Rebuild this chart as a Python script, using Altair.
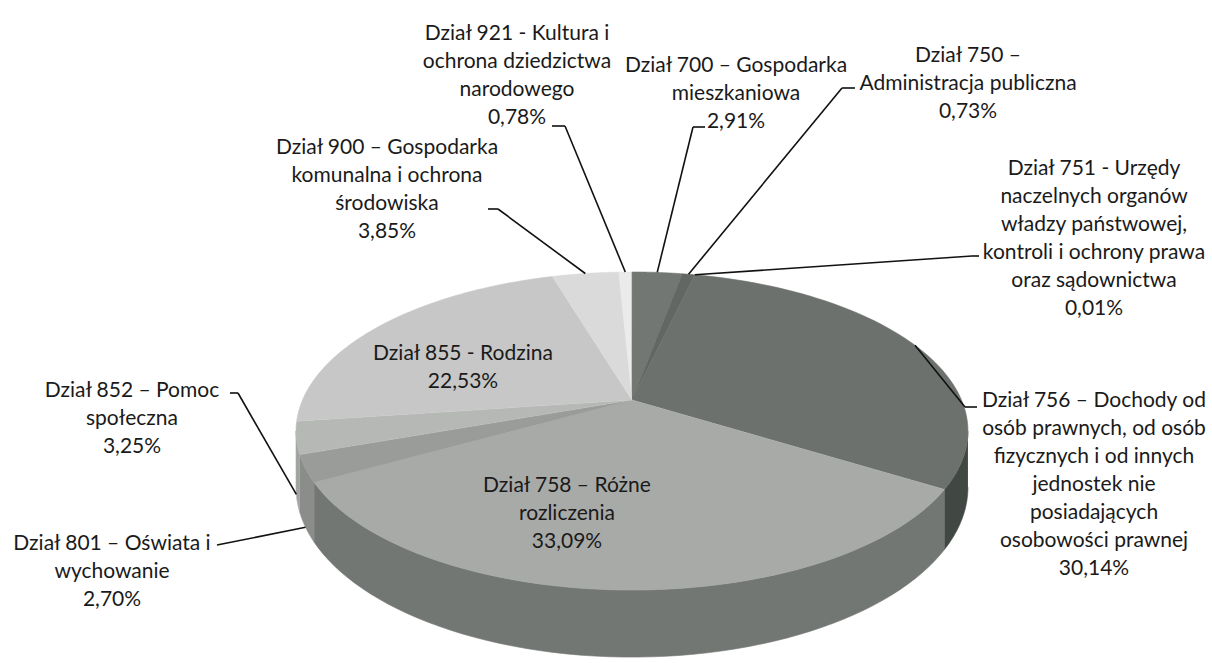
import altair as alt
import pandas as pd

# ---------------- data ----------------
codes = ["921", "700", "750", "751", "756", "758", "801", "852", "855", "900"]
names = [
    "Dział 921 - Kultura i\nochrona dziedzictwa\nnarodowego",
    "Dział 700 – Gospodarka\nmieszkaniowa",
    "Dział 750 –\nAdministracja publiczna",
    "Dział 751 - Urzędy\nnaczelnych organów\nwładzy państwowej,\nkontroli i ochrony prawa\noraz sądownictwa",
    "Dział 756 – Dochody od\nosób prawnych, od osób\nfizycznych i od innych\njednostek nie\nposiadających\nosobowości prawnej",
    "Dział 758 – Różne\nrozliczenia",
    "Dział 801 – Oświata i\nwychowanie",
    "Dział 852 – Pomoc\nspołeczna",
    "Dział 855 - Rodzina",
    "Dział 900 – Gospodarka\nkomunalna i ochrona\nśrodowiska",
]
values = [0.78, 2.91, 0.73, 0.01, 30.14, 33.09, 2.70, 3.25, 22.53, 3.85]

# ---------------- styles ----------------
top_colors = ["#ebebeb", "#737774", "#626763", "#626763", "#6c716d",
              "#a8aaa8", "#9a9c9a", "#b6b8b6", "#c6c7c6", "#dadada"]
side_colors = ["#d0d0d0", "#555a56", "#474c48", "#474c48", "#414843",
               "#737774", "#8b8d8b", "#a1a3a1", "#aeafae", "#c2c2c2"]

# ---------------- layout ----------------
W, H = 1212, 663
CX, CY = 632, 400          # projected pie centre
A, B = 329.5, 153          # horizontal / vertical radius factors
K = 0.195                  # perspective factor
D = 54                     # pie thickness
START = -2.8               # start angle in degrees (clockwise from top)
N = 60                     # arc resolution
FONT, FS, LH = "Lato", 21, 28

# label block: centre x, centre y of first line
label_pos = {
    "921": (517, 33), "700": (736, 65), "750": (968, 55), "751": (1094, 168),
    "756": (1094, 400), "758": (567, 485), "801": (112, 543), "852": (132, 390),
    "855": (463, 353), "900": (387, 147),
}
# where each leader line leaves its label
anchor_pos = {
    "921": (565, 126), "900": (498, 209), "700": (693, 127), "750": (842, 88),
    "751": (972, 256), "756": (965, 407), "852": (238, 393), "801": (217, 545),
}
# short horizontal stubs next to labels: (x1, x2, y)
stub_pos = [
    (552, 565, 126), (488, 498, 209), (693, 705, 127), (842, 855, 88),
    (972, 979, 256), (965, 977, 407), (230, 238, 393),
]

# ---------------- tables ----------------
pct = [f"{v:.2f}".replace(".", ",") + "%" for v in values]
slices = pd.DataFrame({
    "code": codes, "value": values, "order": list(range(len(codes))),
    "top": top_colors, "side": side_colors,
})
labels = pd.DataFrame({
    "code": codes,
    "text": [n + "\n" + p for n, p in zip(names, pct)],
    "lx": [label_pos[c][0] for c in codes],
    "ly": [label_pos[c][1] for c in codes],
})
anchors = [{"code": c, "ax": p[0], "ay": p[1]} for c, p in anchor_pos.items()]
stubs = pd.DataFrame(stub_pos, columns=["x1", "x2", "y"])

xs = alt.Scale(domain=[0, W], nice=False, zero=False)
ys = alt.Scale(domain=[0, H], nice=False, zero=False, reverse=True)
X = lambda f: alt.X(f, type="quantitative", scale=xs, axis=None)
Y = lambda f: alt.Y(f, type="quantitative", scale=ys, axis=None)


def base():
    return alt.Chart(slices).transform_window(
        cum="sum(value)", sort=[alt.SortField("order", order="ascending")], frame=[None, 0]
    ).transform_joinaggregate(total="sum(value)").transform_calculate(
        a0=f"2*PI*(datum.cum - datum.value)/datum.total + {START}*PI/180",
        a1=f"2*PI*datum.cum/datum.total + {START}*PI/180",
    )


# side walls (only the front, visible part)
side = base().transform_calculate(
    b0=f"max(datum.a0, acos(-{K}))",
    b1=f"min(datum.a1, 2*PI - acos(-{K}))",
).transform_filter("datum.b1 > datum.b0").transform_calculate(
    t=f"sequence(0, {2 * N + 2})"
).transform_flatten(["t"]).transform_calculate(
    u=f"datum.t <= {N} ? datum.t : {2 * N + 1} - datum.t",
    low=f"datum.t > {N} ? 1 : 0",
).transform_calculate(
    ang=f"datum.b0 + (datum.b1 - datum.b0) * datum.u / {N}"
).transform_calculate(
    s=f"1 / (1 + {K} * cos(datum.ang))"
).transform_calculate(
    px=f"{CX} + {A} * sin(datum.ang) * datum.s",
    py=f"{CY} + (-{B} * cos(datum.ang) + datum.low * {D}) * datum.s",
).mark_line(strokeWidth=0.6).encode(
    x=X("px"), y=Y("py"), order=alt.Order("t:Q"),
    fill=alt.Fill("side:N", scale=None), stroke=alt.Stroke("side:N", scale=None),
    detail="code:N",
)

# top faces
top = base().transform_calculate(
    t=f"sequence(-1, {N + 1})"
).transform_flatten(["t"]).transform_calculate(
    ang=f"datum.a0 + (datum.a1 - datum.a0) * max(datum.t, 0) / {N}"
).transform_calculate(
    s=f"1 / (1 + {K} * cos(datum.ang))"
).transform_calculate(
    px=f"datum.t < 0 ? {CX} : {CX} + {A} * sin(datum.ang) * datum.s",
    py=f"datum.t < 0 ? {CY} : {CY} - {B} * cos(datum.ang) * datum.s",
).mark_line(strokeWidth=0.6).encode(
    x=X("px"), y=Y("py"), order=alt.Order("t:Q"),
    fill=alt.Fill("top:N", scale=None), stroke=alt.Stroke("top:N", scale=None),
    detail="code:N",
)

# leader lines from label anchor to the slice's mid-angle edge
leaders = base().transform_lookup(
    lookup="code",
    from_=alt.LookupData(data=alt.InlineData(values=anchors), key="code", fields=["ax", "ay"]),
).transform_filter("isValid(datum.ax)").transform_calculate(
    am="(datum.a0 + datum.a1) / 2"
).transform_calculate(
    s=f"1 / (1 + {K} * cos(datum.am))"
).transform_calculate(
    ex=f"{CX} + {A} * sin(datum.am) * datum.s",
    ey=f"{CY} + (-{B} * cos(datum.am) + (cos(datum.am) < 0 ? {D} : 0)) * datum.s",
).mark_rule(color="#111111", strokeWidth=1.6).encode(
    x=X("ex"), y=Y("ey"), x2="ax:Q", y2="ay:Q"
)

stub_layer = alt.Chart(stubs).mark_rule(color="#111111", strokeWidth=1.6).encode(
    x=X("x1"), x2="x2:Q", y=Y("y")
)

text = alt.Chart(labels).mark_text(
    font=FONT, fontSize=FS, lineHeight=LH, align="center", baseline="alphabetic",
    lineBreak="\n", dy=7, color="#1a1a1a",
).encode(x=X("lx"), y=Y("ly"), text="text:N")

chart = alt.layer(side, top, leaders, stub_layer, text).properties(
    width=W, height=H, padding=0, autosize=alt.AutoSizeParams(type="none"),
    background="white",
).configure_view(stroke=None)

chart.save("out.html", embed_options={"renderer": "svg", "actions": False})
